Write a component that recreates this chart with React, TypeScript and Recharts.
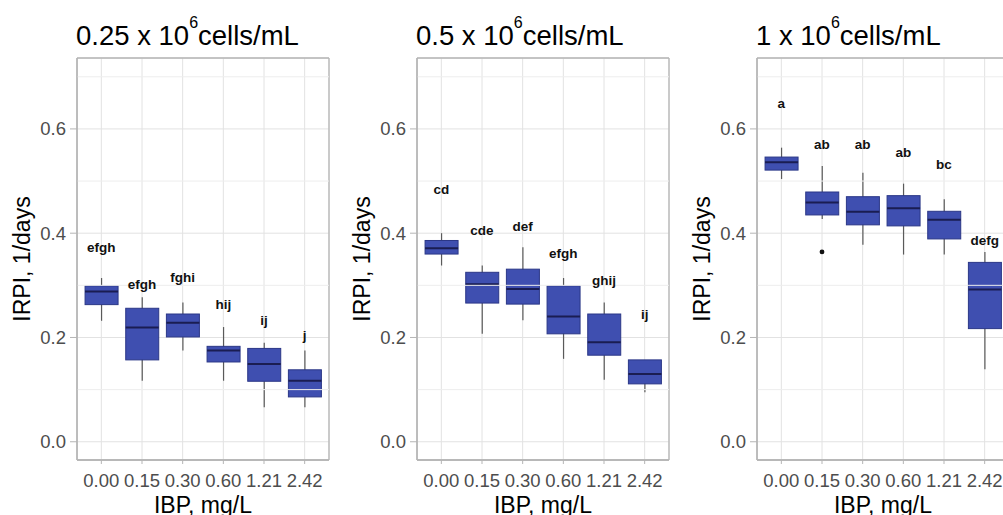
import React from 'react';
import {
  ComposedChart,
  Bar,
  Scatter,
  XAxis,
  YAxis,
  CartesianGrid,
  ReferenceLine,
  Label,
} from 'recharts';

// ---------- data ----------
const doses = ['0.00', '0.15', '0.30', '0.60', '1.21', '2.42'];
const yTicks = [0, 0.2, 0.4, 0.6];
const yMinorTicks = [0.1, 0.3, 0.5, 0.7];

// panel 1: 0.25 x 10^6 cells/mL
const p1Min = [0.232, 0.117, 0.175, 0.117, 0.066, 0.066];
const p1Q1 = [0.263, 0.157, 0.201, 0.153, 0.116, 0.086];
const p1Med = [0.288, 0.219, 0.228, 0.175, 0.149, 0.117];
const p1Q3 = [0.299, 0.256, 0.245, 0.183, 0.179, 0.138];
const p1Max = [0.314, 0.277, 0.267, 0.22, 0.19, 0.175];
const p1Letters = ['efgh', 'efgh', 'fghi', 'hij', 'ij', 'j'];
const p1LetterY = [0.374, 0.302, 0.316, 0.263, 0.234, 0.205];
const p1Outliers: (number | null)[] = [null, null, null, null, null, null];

// panel 2: 0.5 x 10^6 cells/mL
const p2Min = [0.338, 0.207, 0.233, 0.159, 0.119, 0.095];
const p2Q1 = [0.36, 0.266, 0.264, 0.207, 0.166, 0.111];
const p2Med = [0.371, 0.302, 0.293, 0.24, 0.191, 0.13];
const p2Q3 = [0.386, 0.325, 0.331, 0.299, 0.245, 0.157];
const p2Max = [0.4, 0.338, 0.373, 0.314, 0.267, 0.157];
const p2Letters = ['cd', 'cde', 'def', 'efgh', 'ghij', 'ij'];
const p2LetterY = [0.485, 0.405, 0.413, 0.361, 0.309, 0.244];
const p2Outliers: (number | null)[] = [null, null, null, null, null, null];

// panel 3: 1 x 10^6 cells/mL
const p3Min = [0.504, 0.427, 0.378, 0.359, 0.359, 0.139];
const p3Q1 = [0.521, 0.435, 0.416, 0.414, 0.389, 0.217];
const p3Med = [0.536, 0.459, 0.441, 0.448, 0.426, 0.292];
const p3Q3 = [0.546, 0.479, 0.47, 0.472, 0.442, 0.344];
const p3Max = [0.564, 0.529, 0.516, 0.495, 0.465, 0.364];
const p3Letters = ['a', 'ab', 'ab', 'ab', 'bc', 'defg'];
const p3LetterY = [0.649, 0.571, 0.57, 0.556, 0.532, 0.387];
const p3Outliers: (number | null)[] = [null, 0.364, null, null, null, null];

const buildRows = (
  mn: number[], q1: number[], med: number[], q3: number[], mx: number[],
  letters: string[], letterY: number[], outliers: (number | null)[]
) =>
  doses.map((d, i) => ({
    dose: d,
    range: [mn[i], mx[i]],
    min: mn[i],
    q1: q1[i],
    median: med[i],
    q3: q3[i],
    max: mx[i],
    letter: letters[i],
    letterY: letterY[i],
    outlier: outliers[i],
  }));

const panels = [
  { lead: '0.25 x 10', rows: buildRows(p1Min, p1Q1, p1Med, p1Q3, p1Max, p1Letters, p1LetterY, p1Outliers) },
  { lead: '0.5 x 10', rows: buildRows(p2Min, p2Q1, p2Med, p2Q3, p2Max, p2Letters, p2LetterY, p2Outliers) },
  { lead: '1 x 10', rows: buildRows(p3Min, p3Q1, p3Med, p3Q3, p3Max, p3Letters, p3LetterY, p3Outliers) },
];

// ---------- styling ----------
const FONT = '"Liberation Sans", Arial, Helvetica, sans-serif';
const BOX_FILL = '#3f4fb0';
const BOX_STROKE = '#2b3787';
const MEDIAN = '#1a1d52';
const WHISKER = '#5a5a5a';
const GRID = '#e2e2e2';
const GRID_MINOR = '#ededed';
const BORDER = '#b5b5b5';
const TICK_TEXT = '#4d4d4d';

const CHART_W = 340;
const CHART_H = 530;

const BoxShape = (props: any) => {
  const { x, y, width, height, payload } = props;
  if (!payload || x == null || y == null) return <g />;
  const top = Math.min(y, y + height);
  const h = Math.abs(height);
  const span = payload.max - payload.min;
  const py = (v: number) => (span === 0 ? top : top + ((payload.max - v) / span) * h);
  const cx = x + width / 2;
  const yQ3 = py(payload.q3);
  const yQ1 = py(payload.q1);
  const yMed = py(payload.median);
  return (
    <g>
      <line x1={cx} x2={cx} y1={top} y2={top + h} stroke={WHISKER} strokeWidth={1.2} />
      <rect x={x} y={yQ3} width={width} height={Math.max(yQ1 - yQ3, 0.5)} fill={BOX_FILL} stroke={BOX_STROKE} strokeWidth={1} />
      <line x1={x} x2={x + width} y1={yMed} y2={yMed} stroke={MEDIAN} strokeWidth={2} />
    </g>
  );
};

const LetterShape = (props: any) => {
  const { cx, cy, payload } = props;
  if (!payload || cx == null || cy == null || isNaN(cy)) return <g />;
  return (
    <text x={cx} y={cy} dy="0.36em" textAnchor="middle" fontFamily={FONT} fontWeight="bold" fontSize={13.5} fill="#111">
      {payload.letter}
    </text>
  );
};

const OutlierShape = (props: any) => {
  const { cx, cy, payload } = props;
  if (!payload || payload.outlier == null || cx == null || cy == null || isNaN(cy)) return <g />;
  return <circle cx={cx} cy={cy} r={2.4} fill="#111" />;
};

const renderYTitle = (props: any) => {
  const vb = props.viewBox || { x: 0, y: 58, width: 77, height: 402 };
  const x = vb.x + 30;
  const y = vb.y + vb.height / 2;
  return (
    <text x={x} y={y} transform={`rotate(-90, ${x}, ${y})`} textAnchor="middle" fontFamily={FONT} fontSize={23} fill="#000">
      IRPI, 1/days
    </text>
  );
};

const renderXTitle = (props: any) => {
  const vb = props.viewBox || { x: 77, y: 460, width: 252, height: 70 };
  return (
    <text x={vb.x + vb.width / 2} y={vb.y + 53} textAnchor="middle" fontFamily={FONT} fontSize={23} fill="#000">
      IBP, mg/L
    </text>
  );
};

const borderH = ({ offset }: any) => [offset.top, offset.top + offset.height];
const borderV = ({ offset }: any) => [offset.left, offset.left + offset.width];

const Panel = ({ lead, rows, left }: { lead: string; rows: any[]; left: number }) => (
  <div style={{ position: 'absolute', left, top: 0, width: CHART_W, height: CHART_H }}>
    <ComposedChart
      width={CHART_W}
      height={CHART_H}
      data={rows}
      margin={{ top: 58, right: 11, bottom: 0, left: 0 }}
      barCategoryGap="10%"
    >
      <CartesianGrid stroke={GRID} strokeWidth={1} />
      {yMinorTicks.map((t) => (
        <ReferenceLine key={t} y={t} stroke={GRID_MINOR} strokeWidth={1} ifOverflow="hidden" />
      ))}
      <CartesianGrid
        stroke={BORDER}
        strokeWidth={1.3}
        horizontalCoordinatesGenerator={borderH}
        verticalCoordinatesGenerator={borderV}
      />
      <XAxis
        dataKey="dose"
        type="category"
        padding={{ left: 4, right: 4 }}
        height={70}
        axisLine={{ stroke: BORDER, strokeWidth: 1.3 }}
        tickLine={{ stroke: BORDER }}
        tickSize={4}
        tickMargin={10}
        tick={{ fill: TICK_TEXT, fontSize: 18.5, fontFamily: FONT }}
        interval={0}
      >
        <Label content={renderXTitle} />
      </XAxis>
      <YAxis
        type="number"
        domain={[-0.035, 0.736]}
        allowDataOverflow
        ticks={yTicks}
        width={77}
        axisLine={{ stroke: BORDER, strokeWidth: 1.3 }}
        tickLine={{ stroke: BORDER }}
        tickSize={7}
        tickMargin={4}
        tickFormatter={(v: number) => v.toFixed(1)}
        tick={{ fill: TICK_TEXT, fontSize: 18.5, fontFamily: FONT }}
      >
        <Label content={renderYTitle} />
      </YAxis>
      <Bar dataKey="range" shape={BoxShape} isAnimationActive={false} />
      <Scatter dataKey="outlier" shape={OutlierShape} isAnimationActive={false} />
      <Scatter dataKey="letterY" shape={LetterShape} isAnimationActive={false} />
    </ComposedChart>
    <svg style={{ position: 'absolute', left: 0, top: 0 }} width={CHART_W} height={58}>
      <text x={76} y={45} fontFamily={FONT} fontSize={27.5} fill="#000">
        {lead}
        <tspan fontSize={16} dy={-17}>6</tspan>
        <tspan dy={17}>cells/mL</tspan>
      </text>
    </svg>
  </div>
);

export default function App() {
  return (
    <div style={{ position: 'absolute', left: 0, top: 0, width: 1003, height: 515, overflow: 'hidden', background: '#fff' }}>
      {panels.map((p, i) => (
        <Panel key={i} lead={p.lead} rows={p.rows} left={i * 340} />
      ))}
    </div>
  );
}
